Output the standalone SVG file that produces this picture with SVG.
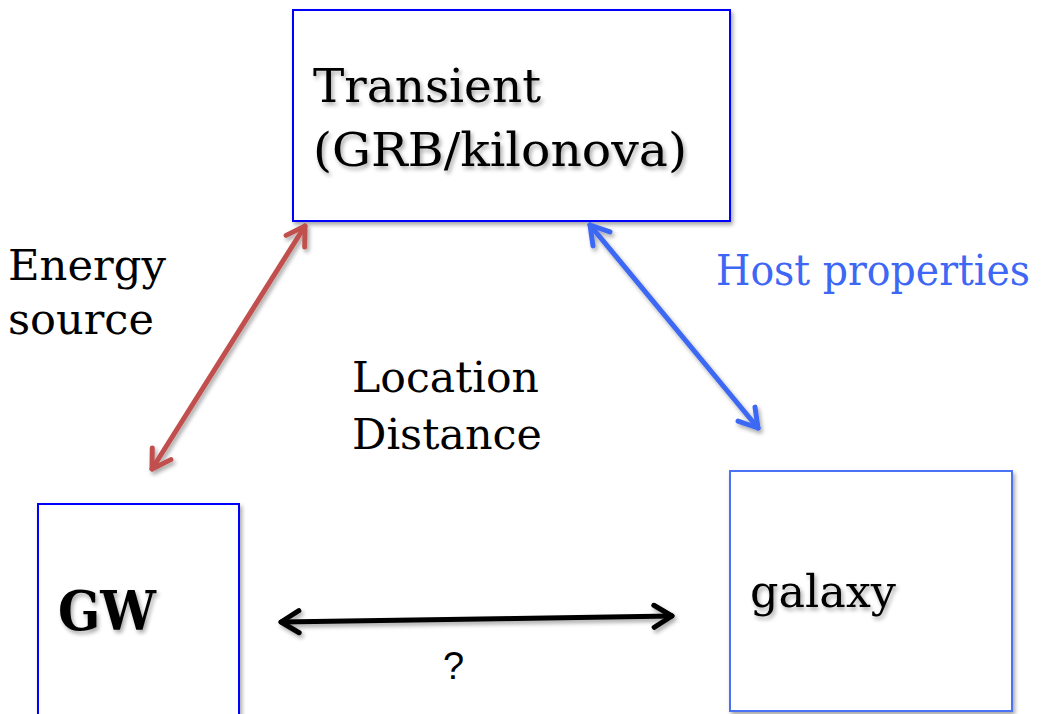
<svg xmlns="http://www.w3.org/2000/svg" width="1063" height="714" viewBox="0 0 1063 714">
<defs>
<filter id="sh" x="-10%" y="-10%" width="130%" height="140%">
<feGaussianBlur in="SourceAlpha" stdDeviation="2"/>
<feOffset dx="2" dy="3" result="b"/>
<feComponentTransfer><feFuncA type="linear" slope="0.35"/></feComponentTransfer>
<feMerge><feMergeNode/><feMergeNode in="SourceGraphic"/></feMerge>
</filter>
<marker id="hr" viewBox="-24 -16 28 32" refX="0" refY="0" markerWidth="28" markerHeight="32" markerUnits="userSpaceOnUse" orient="auto-start-reverse">
<path d="M-18,-11 L0,0 L-18,11" fill="none" stroke="#c0504d" stroke-width="5" stroke-linecap="round" stroke-linejoin="round"/>
</marker>
<marker id="hb" viewBox="-24 -16 28 32" refX="0" refY="0" markerWidth="28" markerHeight="32" markerUnits="userSpaceOnUse" orient="auto-start-reverse">
<path d="M-18,-11 L0,0 L-18,11" fill="none" stroke="#3d67f4" stroke-width="5" stroke-linecap="round" stroke-linejoin="round"/>
</marker>
<marker id="hk" viewBox="-24 -16 28 32" refX="0" refY="0" markerWidth="28" markerHeight="32" markerUnits="userSpaceOnUse" orient="auto-start-reverse">
<path d="M-18,-11 L0,0 L-18,11" fill="none" stroke="#000" stroke-width="5" stroke-linecap="round" stroke-linejoin="round"/>
</marker>
</defs>
<style>
.box{fill:#fff;stroke:#0000ff;stroke-width:2}
.t{font-family:"DejaVu Serif","Liberation Serif",serif;fill:#000}
.c{fill:none;stroke-width:5;stroke-linecap:round}
</style>
<rect width="1063" height="714" fill="#fff"/>
<g id="transient">
<rect class="box" x="293" y="10" width="437" height="211" filter="url(#sh)"/>
<g filter="url(#sh)">
<text class="t" x="313" y="102" font-size="46" textLength="228" lengthAdjust="spacingAndGlyphs">Transient</text>
<text class="t" x="313" y="166" font-size="46" textLength="374" lengthAdjust="spacingAndGlyphs">(GRB/kilonova)</text>
</g>
</g>
<g id="gw">
<rect class="box" x="38" y="504" width="201" height="230" filter="url(#sh)"/>
<text class="t" x="58" y="630" font-size="54" font-weight="bold" textLength="98" lengthAdjust="spacingAndGlyphs" filter="url(#sh)">GW</text>
</g>
<g id="galaxy">
<rect x="730" y="471" width="282" height="240" fill="#fff" stroke="#4a72f5" stroke-width="2" filter="url(#sh)"/>
<text class="t" x="750" y="607" font-size="44" textLength="146" lengthAdjust="spacingAndGlyphs" filter="url(#sh)">galaxy</text>
</g>
<g id="labels">
<text class="t" x="8" y="280" font-size="42" textLength="158" lengthAdjust="spacingAndGlyphs">Energy</text>
<text class="t" x="8" y="334" font-size="42" textLength="146" lengthAdjust="spacingAndGlyphs">source</text>
<text class="t" x="716" y="285" font-size="42" style="fill:#3d67f4" textLength="314" lengthAdjust="spacingAndGlyphs">Host properties</text>
<text class="t" x="352" y="392" font-size="42" textLength="187" lengthAdjust="spacingAndGlyphs">Location</text>
<text class="t" x="352" y="449" font-size="42" textLength="190" lengthAdjust="spacingAndGlyphs">Distance</text>
<text x="443" y="679" font-family="Liberation Sans, Arial, sans-serif" font-size="38">?</text>
</g>
<g id="connectors" filter="url(#sh)">
<line class="c" x1="152" y1="469" x2="305" y2="226" stroke="#c0504d" marker-start="url(#hr)" marker-end="url(#hr)"/>
<line class="c" x1="590" y1="225" x2="758" y2="428" stroke="#3d67f4" marker-start="url(#hb)" marker-end="url(#hb)"/>
<line class="c" x1="281" y1="622" x2="672" y2="616" stroke="#000" marker-start="url(#hk)" marker-end="url(#hk)"/>
</g>
</svg>
